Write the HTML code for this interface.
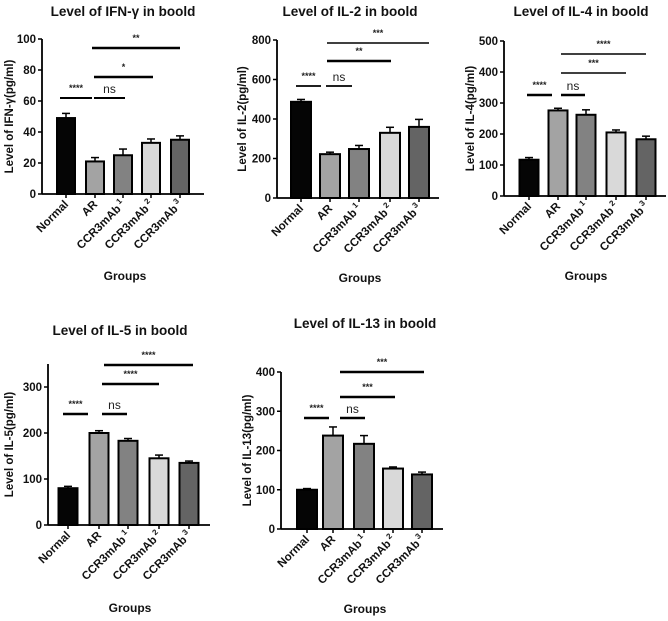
<!DOCTYPE html>
<html><head><meta charset="utf-8"><style>
html,body{margin:0;padding:0;background:#fff;}
svg{display:block;font-family:"Liberation Sans",Arial,sans-serif;}
</style></head><body>
<svg id="fig" width="668" height="621" viewBox="0 0 668 621" xmlns="http://www.w3.org/2000/svg"></svg>
<script>
const categories = ["Normal","AR","CCR3mAb","CCR3mAb","CCR3mAb"];
const catSup = ["","","1","2","3"];
const barColors = ["#050505","#a3a3a3","#828282","#d9d9d9","#646464"];
const ifnMeans = [49,21,25,33,35];
const ifnErr = [3,2.5,4,2.5,2.5];
const ifnTicks = [0,20,40,60,80,100];
const il2Means = [487,222,248,330,360];
const il2Err = [12,10,18,28,38];
const il2Ticks = [0,200,400,600,800];
const il4Means = [117,276,262,205,183];
const il4Err = [7,7,16,8,10];
const il4Ticks = [0,100,200,300,400,500];
const il5Means = [80,200,183,145,135];
const il5Err = [4,5,5,7,4];
const il5Ticks = [0,100,200,300];
const il13Means = [100,238,217,154,139];
const il13Err = [3,22,21,4,6];
const il13Ticks = [0,100,200,300,400];
const ifnSig = [[0,1,"****"],[1,2,"ns"],[1,3,"*"],[1,4,"**"]];
const il2Sig = [[0,1,"****"],[1,2,"ns"],[1,3,"**"],[1,4,"***"]];
const il4Sig = [[0,1,"****"],[1,2,"ns"],[1,3,"***"],[1,4,"****"]];
const il5Sig = [[0,1,"****"],[1,2,"ns"],[1,3,"****"],[1,4,"****"]];
const il13Sig = [[0,1,"****"],[1,2,"ns"],[1,3,"***"],[1,4,"***"]];

const panels = [
 {name:"ifn",title:"Level of IFN-\u03b3 in boold",ytitle:"Level of IFN-\u03b3(pg/ml)",means:ifnMeans,err:ifnErr,ticks:ifnTicks,sig:ifnSig,
  ax:42,ar:204,y0:194,yTop:39,cx:[66,95,123,151,180],bw:18,tx:123,ty:16,ytx:9,gx:125,gy:280,sigY:[98,98,77,48],
  sigX:[[60,92],[94,125],[94,153],[92,180]],lw:[2,2,2.6,2.6]},
 {name:"il2",title:"Level of IL-2 in boold",ytitle:"Level of IL-2(pg/ml)",means:il2Means,err:il2Err,ticks:il2Ticks,sig:il2Sig,
  ax:277,ar:439,y0:198,yTop:40,cx:[301,330,359,390,419],bw:20,tx:350,ty:16,ytx:242,gx:360,gy:282,sigY:[86,86,61,43],
  sigX:[[296,321],[326,352],[327,391],[327,429]],lw:[1.8,1.8,2.6,1.6]},
 {name:"il4",title:"Level of IL-4 in boold",ytitle:"Level of IL-4(pg/ml)",means:il4Means,err:il4Err,ticks:il4Ticks,sig:il4Sig,
  ax:504,ar:666,y0:196,yTop:41,cx:[529,558,586,616,646],bw:19,tx:581,ty:16,ytx:470,gx:586,gy:280,sigY:[95,95,73,54],
  sigX:[[527,552],[561,585],[561,626],[561,646]],lw:[2.6,2.6,1.6,1.6]},
 {name:"il5",title:"Level of IL-5 in boold",ytitle:"Level of IL-5(pg/ml)",means:il5Means,err:il5Err,ticks:il5Ticks,sig:il5Sig,
  ax:48,ar:210,y0:525,yTop:387,cx:[68,99,128,159,189],bw:19,tx:120,ty:335,ytx:9,gx:130,gy:612,sigY:[414,414,384,365],
  sigX:[[63,88],[102,127],[102,159],[104,193]],lw:[2.6,2.6,2.6,2.6]},
 {name:"il13",title:"Level of IL-13 in boold",ytitle:"Level of IL-13(pg/ml)",means:il13Means,err:il13Err,ticks:il13Ticks,sig:il13Sig,
  ax:281,ar:443,y0:529,yTop:372,cx:[307,333,364,393,422],bw:20,tx:365,ty:328,ytx:247,gx:365,gy:613,sigY:[418,418,397,372],
  sigX:[[304,329],[340,365],[340,395],[340,424]],lw:[2.6,2.6,2.6,2.6]}
];
const NS="http://www.w3.org/2000/svg";
const svg=document.getElementById('fig');
function mk(tag,attrs,parent){const e=document.createElementNS(NS,tag);for(const k in attrs)e.setAttribute(k,attrs[k]);(parent||svg).appendChild(e);return e;}
panels.forEach(p=>{
  const g=mk('g',{});
  
  
  const yTopVal=p.ticks[p.ticks.length-1];
  const scale=(p.y0-p.yTop)/yTopVal;
  const yS=v=>p.y0-v*scale;
  const axTop=(p.name==="il5")?yS(350):p.yTop;
  const t=mk('text',{x:p.tx,y:p.ty,'text-anchor':'middle','font-size':13.5,'font-weight':'bold',fill:'#111'},g);t.textContent=p.title;
  
  
  const yt=mk('text',{x:0,y:0,'text-anchor':'middle','font-size':11.5,'font-weight':'bold',fill:'#111',transform:`translate(${p.ytx+4},${(p.y0+axTop)/2}) rotate(-90)`},g);yt.textContent=p.ytitle;
  
  
  p.means.forEach((m,i)=>{
    const x=p.cx[i]-p.bw/2, y=yS(m);
    const e=yS(m+p.err[i]);
    const el=mk('line',{x1:p.cx[i],x2:p.cx[i],y1:y,y2:e,stroke:'#000','stroke-width':1.5},g);
    
    
    const cap=mk('line',{x1:p.cx[i]-4,x2:p.cx[i]+4,y1:e,y2:e,stroke:'#000','stroke-width':1.5},g);
    
    
    const r=mk('rect',{x:x,y:y,width:p.bw,height:p.y0-y,fill:barColors[i],stroke:'#000','stroke-width':2},g);
    
    
  });
  const ya=mk('line',{x1:p.ax,x2:p.ax,y1:axTop,y2:p.y0,stroke:'#000','stroke-width':1.8},g);
  
  
  const xa=mk('line',{x1:p.ax,x2:p.ar,y1:p.y0,y2:p.y0,stroke:'#000','stroke-width':1.8},g);
  
  
  p.ticks.forEach(v=>{
    mk('line',{x1:p.ax-4,x2:p.ax,y1:yS(v),y2:yS(v),stroke:'#000','stroke-width':1.5},g);
    const tl=mk('text',{x:p.ax-6,y:yS(v)+4,'text-anchor':'end','font-size':11.5,'font-weight':'bold',fill:'#111'},g);tl.textContent=v;
    
    
  });
  categories.forEach((c,i)=>{
    mk('line',{x1:p.cx[i],x2:p.cx[i],y1:p.y0,y2:p.y0+4,stroke:'#000','stroke-width':1.5},g);
    const tl=mk('text',{'text-anchor':'end','font-size':11.5,'font-weight':'bold',fill:'#111',transform:`translate(${p.cx[i]+3},${p.y0+11}) rotate(-45)`},g);
    tl.textContent=c;
    if(catSup[i]){const s=mk('tspan',{'font-size':8,dy:-5,dx:2},tl);s.textContent=catSup[i];}
    
    
  });
  const gl=mk('text',{x:p.gx,y:p.gy,'text-anchor':'middle','font-size':12,'font-weight':'bold',fill:'#111'},g);gl.textContent="Groups";
  
  
  p.sig.forEach((s,k)=>{
    const y=p.sigY[k];
    const x1=p.sigX[k][0], x2=p.sigX[k][1];
    const ln=mk('line',{x1:x1,x2:x2,y1:y,y2:y,stroke:'#000','stroke-width':p.lw[k]},g);
    
    
    const isNs=s[2]==='ns';
    const st=mk('text',{x:(x1+x2)/2,y:isNs?y-5:y-7,'text-anchor':'middle','font-size':isNs?12:9,'font-weight':isNs?'normal':'bold',fill:'#222'},g);st.textContent=s[2];
    
    
  });
});
</script>
</body></html>
